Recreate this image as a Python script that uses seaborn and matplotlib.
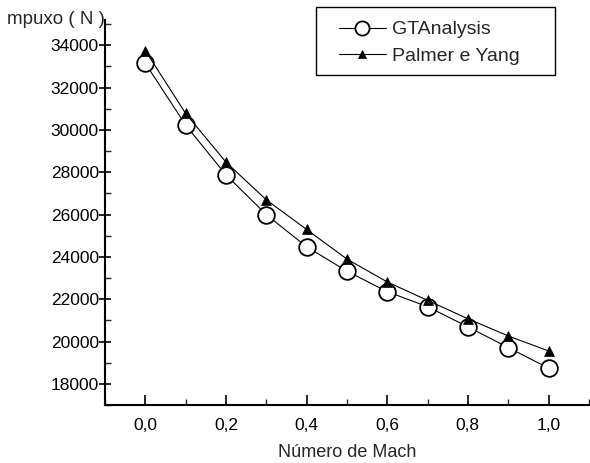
import matplotlib
matplotlib.use("Agg")
import matplotlib.pyplot as plt
import seaborn as sns
import pandas as pd
from matplotlib.ticker import MultipleLocator, FuncFormatter
from matplotlib.patches import Rectangle

mach = [0.0, 0.1, 0.2, 0.3, 0.4, 0.5, 0.6, 0.7, 0.8, 0.9, 1.0]
gtanalysis = [33150, 30230, 27880, 26000, 24480, 23330, 22360, 21650, 20700, 19720, 18750]
palmer_yang = [33750, 30780, 28480, 26700, 25300, 23900, 22820, 21950, 21080, 20270, 19560]

sns.set_theme(style="ticks")
plt.rcParams['font.family'] = ['Liberation Sans', 'DejaVu Sans']

W, H = 590, 463
fig = plt.figure(figsize=(W / 100, H / 100), dpi=100)
ax = fig.add_axes([0.178, 0.125, 0.82, 0.832])

df1 = pd.DataFrame({"x": mach, "y": gtanalysis})
df2 = pd.DataFrame({"x": mach, "y": palmer_yang})

sns.lineplot(data=df1, x="x", y="y", ax=ax, color="black", lw=0.8,
             marker="o", markersize=12, markerfacecolor="white",
             markeredgecolor="black", markeredgewidth=1.3, label="GTAnalysis")
sns.lineplot(data=df2, x="x", y="y", ax=ax, color="black", lw=0.8,
             marker="^", markersize=7.5, markerfacecolor="black",
             markeredgecolor="black", markeredgewidth=0.5, label="Palmer e Yang")

ax.set_xlim(-0.1, 1.1)
ax.set_ylim(17000, 35200)
ax.xaxis.set_major_locator(MultipleLocator(0.2))
ax.xaxis.set_minor_locator(MultipleLocator(0.1))
ax.yaxis.set_major_locator(MultipleLocator(2000))
ax.yaxis.set_minor_locator(MultipleLocator(1000))
ax.xaxis.set_major_formatter(FuncFormatter(lambda v, p: f"{v:.1f}".replace(".", ",")))
ax.yaxis.set_major_formatter(FuncFormatter(lambda v, p: f"{int(round(v))}"))

for s in ["top", "right"]:
    ax.spines[s].set_visible(False)
for s in ["left", "bottom"]:
    ax.spines[s].set_linewidth(1.5)
    ax.spines[s].set_color("black")

ax.tick_params(axis="x", which="major", direction="in", length=7, width=1.2,
               labelsize=12.5, colors="black", pad=9)
ax.tick_params(axis="x", which="minor", direction="in", length=4, width=1.0)
ax.tick_params(axis="y", which="major", direction="inout", length=9, width=1.2,
               labelsize=12.5, colors="black", pad=0)
ax.tick_params(axis="y", which="minor", direction="in", length=4, width=1.0)

ax.set_xlabel("Número de Mach", fontsize=13, labelpad=8)
ax.set_ylabel("")
ax.text(0.0, 1.0, "mpuxo ( N )", transform=ax.transAxes, ha="right", va="center",
        fontsize=13.5)

# legend box (frame drawn separately to match reference proportions)
bx0, by0, bx1, by1 = 316, 7, 555, 75
fig.patches.append(Rectangle((bx0 / W, 1 - by1 / H), (bx1 - bx0) / W, (by1 - by0) / H,
                             transform=fig.transFigure, fill=False,
                             edgecolor="black", linewidth=1.0, zorder=5))
leg = ax.legend(loc="upper left", bbox_to_anchor=(333 / W, 1 - 15 / H),
                bbox_transform=fig.transFigure, frameon=False,
                fontsize=14, handlelength=2.4, handletextpad=0.35, markerscale=0.85,
                borderpad=0.3, labelspacing=0.45, borderaxespad=0)

fig.savefig("out.png", dpi=100)
